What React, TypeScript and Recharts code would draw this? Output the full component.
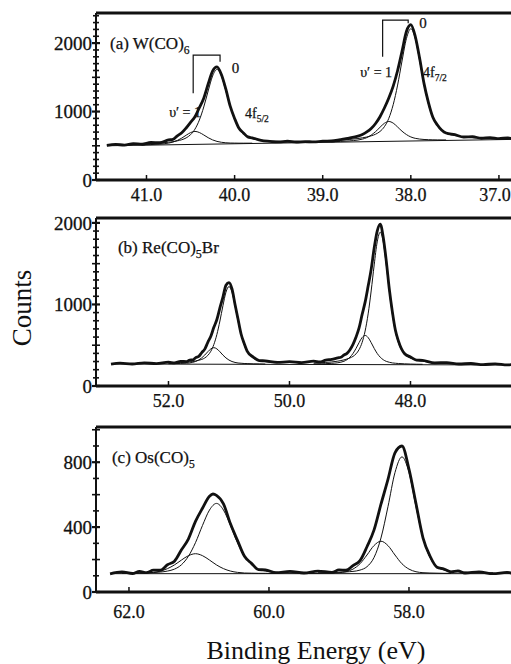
import React from "react";
import { LineChart, Line, XAxis, YAxis, ReferenceDot, ReferenceLine } from "recharts";

type Pt = [number, number];

// ---------- Panel (a) W(CO)6 ----------
const aXTicks = [41, 40, 39, 38, 37];
const aYTicks = [0, 100, 200, 300, 400, 500, 600, 700, 800, 900, 1000, 1100, 1200, 1300, 1400, 1500, 1600, 1700, 1800, 1900, 2000, 2100, 2200, 2300, 2400];
const aYLabels = [0, 1000, 2000];
const aData: Pt[] = [[41.45,505],[41.35,520],[41.25,510],[41.15,531],[41.05,522],[40.95,548],[40.85,544],[40.75,586],[40.7,594],[40.65,645],[40.6,690],[40.55,760],[40.5,842],[40.45,925],[40.4,1056],[40.35,1195],[40.3,1402],[40.25,1590],[40.2,1652],[40.15,1540],[40.1,1330],[40.05,1078],[40.0,900],[39.95,755],[39.9,688],[39.85,630],[39.8,616],[39.7,578],[39.6,565],[39.5,556],[39.4,566],[39.3,555],[39.2,562],[39.1,556],[39.0,568],[38.9,570],[38.8,590],[38.7,612],[38.6,640],[38.55,664],[38.5,702],[38.45,752],[38.4,826],[38.35,925],[38.3,1052],[38.25,1198],[38.2,1372],[38.15,1600],[38.1,1880],[38.05,2170],[38.0,2268],[37.95,2100],[37.9,1778],[37.85,1408],[37.8,1132],[37.75,918],[37.7,808],[37.6,686],[37.5,662],[37.4,628],[37.3,632],[37.2,610],[37.1,620],[37.0,604],[36.9,616],[36.85,605]];
const aMain1: Pt[] = [[41.05,524],[40.95,531],[40.85,539],[40.75,552],[40.7,560],[40.65,572],[40.6,588],[40.55,615],[40.5,662],[40.45,743],[40.4,876],[40.35,1067],[40.3,1301],[40.25,1519],[40.2,1615],[40.15,1521],[40.1,1305],[40.05,1073],[40.0,884],[39.95,753],[39.9,674],[39.85,629],[39.8,604],[39.7,580],[39.6,569],[39.5,564],[39.4,561]];
const aMinor1: Pt[] = [[41.05,514],[40.95,518],[40.85,524],[40.75,539],[40.7,554],[40.65,578],[40.6,612],[40.55,654],[40.5,692],[40.45,710],[40.4,694],[40.35,658],[40.3,618],[40.25,586],[40.2,564],[40.15,551],[40.1,544],[40.05,540],[40.0,539],[39.95,538],[39.9,538],[39.8,538]];
const aMain2: Pt[] = [[38.9,574],[38.8,582],[38.7,592],[38.6,606],[38.55,616],[38.5,628],[38.45,645],[38.4,669],[38.35,709],[38.3,779],[38.25,901],[38.2,1101],[38.15,1387],[38.1,1739],[38.05,2066],[38.0,2210],[37.95,2068],[37.9,1743],[37.85,1393],[37.8,1109],[37.75,911],[37.7,791],[37.6,685],[37.5,648],[37.4,630],[37.3,620],[37.2,614],[37.1,610]];
const aMinor2: Pt[] = [[38.9,559],[38.8,564],[38.7,571],[38.6,584],[38.55,597],[38.5,619],[38.45,656],[38.4,707],[38.35,770],[38.3,829],[38.25,855],[38.2,831],[38.15,774],[38.1,713],[38.05,664],[38.0,629],[37.95,609],[37.9,598],[37.85,592],[37.8,589],[37.75,587],[37.7,586],[37.6,585]];
const aBase: Pt[] = [[41.45,500],[36.85,593]];
const aBracket1: Pt[] = [[40.47,1266],[40.47,1825],[40.165,1825],[40.165,1727]];
const aBracket2: Pt[] = [[38.32,1800],[38.32,2336],[38.03,2336],[38.03,2290]];

// ---------- Panel (b) Re(CO)5Br ----------
const bXTicks = [52, 50, 48];
const bYTicks = [0, 100, 200, 300, 400, 500, 600, 700, 800, 900, 1000, 1100, 1200, 1300, 1400, 1500, 1600, 1700, 1800, 1900, 2000];
const bYLabels = [0, 1000, 2000];
const bData: Pt[] = [[52.95,268],[52.8,281],[52.6,270],[52.4,284],[52.2,274],[52.0,292],[51.9,284],[51.8,303],[51.7,300],[51.65,318],[51.6,320],[51.55,348],[51.5,362],[51.45,410],[51.4,452],[51.35,536],[51.3,610],[51.25,720],[51.2,815],[51.15,958],[51.1,1090],[51.05,1236],[51.0,1268],[50.95,1190],[50.9,1000],[50.85,818],[50.8,638],[50.75,524],[50.7,428],[50.6,355],[50.5,312],[50.4,308],[50.2,290],[50.0,298],[49.8,286],[49.6,305],[49.5,294],[49.4,318],[49.3,326],[49.2,345],[49.15,352],[49.1,380],[49.05,400],[49.0,445],[48.95,510],[48.9,600],[48.85,712],[48.8,875],[48.75,1028],[48.7,1225],[48.65,1430],[48.6,1692],[48.55,1900],[48.5,1985],[48.45,1822],[48.4,1532],[48.35,1188],[48.3,912],[48.25,686],[48.2,553],[48.1,398],[48.0,356],[47.9,318],[47.8,314],[47.6,284],[47.4,287],[47.2,270],[47.0,276],[46.8,262],[46.6,271],[46.4,258],[46.3,266]];
const bMain1: Pt[] = [[52.0,280],[51.9,283],[51.8,287],[51.7,292],[51.65,296],[51.6,300],[51.55,307],[51.5,315],[51.45,326],[51.4,344],[51.35,375],[51.3,426],[51.25,509],[51.2,632],[51.15,797],[51.1,984],[51.05,1150],[51.0,1220],[50.95,1150],[50.9,984],[50.85,796],[50.8,631],[50.75,508],[50.7,425],[50.6,343],[50.5,314],[50.4,298],[50.2,284]];
const bMinor1: Pt[] = [[52.0,273],[51.9,274],[51.8,277],[51.7,280],[51.65,283],[51.6,290],[51.55,301],[51.5,319],[51.45,345],[51.4,380],[51.35,420],[51.3,455],[51.25,470],[51.2,455],[51.15,420],[51.1,379],[51.05,344],[51.0,318],[50.95,300],[50.9,289],[50.85,282],[50.8,279],[50.75,276],[50.7,275],[50.6,272],[50.5,271],[50.4,269]];
const bMain2: Pt[] = [[49.6,282],[49.5,285],[49.4,289],[49.3,295],[49.2,305],[49.15,312],[49.1,320],[49.05,331],[49.0,344],[48.95,363],[48.9,394],[48.85,446],[48.8,533],[48.75,674],[48.7,884],[48.65,1165],[48.6,1485],[48.55,1767],[48.5,1886],[48.45,1767],[48.4,1485],[48.35,1165],[48.3,883],[48.25,673],[48.2,532],[48.1,393],[48.0,342],[47.9,318],[47.8,303],[47.6,286],[47.4,278]];
const bMinor2: Pt[] = [[49.6,270],[49.5,272],[49.4,274],[49.3,278],[49.2,285],[49.15,292],[49.1,303],[49.05,323],[49.0,354],[48.95,399],[48.9,461],[48.85,532],[48.8,594],[48.75,620],[48.7,594],[48.65,532],[48.6,461],[48.55,399],[48.5,353],[48.45,322],[48.4,302],[48.35,291],[48.3,283],[48.25,279],[48.2,276],[48.1,272],[48.0,269],[47.9,267],[47.8,266]];
const bBase: Pt[] = [[52.95,270],[46.3,258]];

// ---------- Panel (c) Os(CO)5 ----------
const cXTicks = [62, 60, 58];
const cYTicks = [0, 100, 200, 300, 400, 500, 600, 700, 800, 900, 1000];
const cYLabels = [0, 400, 800];
const cData: Pt[] = [[62.27,112],[62.1,124],[61.95,114],[61.85,127],[61.75,119],[61.65,135],[61.55,134],[61.45,168],[61.35,190],[61.25,260],[61.15,328],[61.05,435],[60.95,516],[60.85,590],[60.8,604],[60.75,596],[60.65,543],[60.55,420],[60.45,318],[60.35,220],[60.25,177],[60.15,138],[60.05,136],[59.9,119],[59.7,127],[59.5,117],[59.3,129],[59.1,121],[59.0,136],[58.9,134],[58.8,163],[58.7,193],[58.6,279],[58.5,381],[58.4,541],[58.3,694],[58.2,858],[58.1,900],[58.0,758],[57.9,545],[57.8,334],[57.7,222],[57.6,153],[57.5,142],[57.4,124],[57.3,130],[57.2,117],[57.0,124],[56.8,113],[56.6,121],[56.5,112]];
const cMain1: Pt[] = [[61.95,117],[61.85,118],[61.75,119],[61.65,120],[61.55,123],[61.45,129],[61.35,141],[61.25,168],[61.15,221],[61.05,304],[60.95,410],[60.85,505],[60.75,546],[60.65,505],[60.55,410],[60.45,304],[60.35,221],[60.25,168],[60.15,141],[60.05,129],[59.9,121],[59.7,118],[59.5,117]];
const cMinor1: Pt[] = [[62.1,115],[61.95,115],[61.85,116],[61.75,117],[61.65,121],[61.55,129],[61.45,144],[61.35,167],[61.25,197],[61.15,224],[61.05,236],[60.95,224],[60.85,197],[60.75,167],[60.65,144],[60.55,129],[60.45,121],[60.35,117],[60.25,116],[60.15,115],[60.05,115],[59.9,114]];
const cMain2: Pt[] = [[59.3,118],[59.1,120],[59.0,122],[58.9,124],[58.8,127],[58.7,135],[58.6,156],[58.5,212],[58.4,333],[58.3,526],[58.2,736],[58.1,833],[58.0,736],[57.9,526],[57.8,333],[57.7,212],[57.6,156],[57.5,135],[57.4,127],[57.3,124],[57.2,122],[57.0,119],[56.8,118]];
const cMinor2: Pt[] = [[59.5,114],[59.3,115],[59.1,117],[59.0,119],[58.9,125],[58.8,141],[58.7,174],[58.6,228],[58.5,286],[58.4,313],[58.3,286],[58.2,228],[58.1,174],[58.0,141],[57.9,125],[57.8,119],[57.7,117],[57.6,116],[57.5,115],[57.4,115]];
const cBase: Pt[] = [[62.27,113],[56.5,113]];

const FONT = '"Liberation Serif", "Times New Roman", serif';
const INK = "#111";
const PAGE_W = 511;

const rows = (pts: Pt[]) => pts.map(([e, c]) => ({ e, c }));

type Note = { e: number; c: number; anchor: "start" | "middle" | "end"; size: number; content: React.ReactNode };

const sub = (s: string, size: number) => [
  <tspan key="s" dy={size * 0.3} fontSize={size * 0.68}>{s}</tspan>,
];

const aNotes: Note[] = [
  { e: 41.414, c: 2000, anchor: "start", size: 17, content: [<tspan key="a">(a) W(CO)</tspan>, ...sub("6", 17)] },
  { e: 40.033, c: 1635, anchor: "start", size: 15, content: "0" },
  { e: 40.381, c: 992, anchor: "end", size: 14, content: "υ′ = 1" },
  { e: 39.882, c: 978, anchor: "start", size: 14, content: [<tspan key="a">4f</tspan>, ...sub("5/2", 14)] },
  { e: 37.903, c: 2306, anchor: "start", size: 15, content: "0" },
  { e: 38.213, c: 1577, anchor: "end", size: 14, content: "υ′ = 1" },
  { e: 37.862, c: 1577, anchor: "start", size: 14, content: [<tspan key="a">4f</tspan>, ...sub("7/2", 14)] },
];
const bNotes: Note[] = [
  { e: 52.835, c: 1705, anchor: "start", size: 17, content: [<tspan key="a">(b) Re(CO)</tspan>, <tspan key="s" dy={5} fontSize={12}>5</tspan>, <tspan key="b" dy={-5}>Br</tspan>] },
];
const cNotes: Note[] = [
  { e: 62.243, c: 832, anchor: "start", size: 17, content: [<tspan key="a">(c) Os(CO)</tspan>, ...sub("5", 17)] },
];

const makeYTick = (labels: number[], semi: number) => (p: any) => {
  const v = p.payload.value;
  const major = labels.includes(v);
  const mid = !major && v % semi === 0;
  const half = major ? 4 : mid ? 4 : 3;
  return (
    <g>
      <line x1={p.x - half} x2={p.x + half} y1={p.y} y2={p.y} stroke={INK} strokeWidth={major ? 2.2 : 1.6} />
      {major && (
        <text x={p.x - 4} y={p.y} dy="0.36em" textAnchor="end" fontFamily={FONT} fontSize={19} fill={INK} stroke={INK} strokeWidth={0.3}>
          {v}
        </text>
      )}
    </g>
  );
};

const makeXTick = (gap: number) => (p: any) => {
  const tx = Math.min(p.x, PAGE_W - 16);
  return (
    <g>
      <line x1={p.x} x2={p.x} y1={p.y - 1} y2={p.y - 5} stroke={INK} strokeWidth={1.5} />
      <text x={tx} y={p.y + gap} dy="0.36em" textAnchor="middle" fontFamily={FONT} fontSize={18} fill={INK} stroke={INK} strokeWidth={0.25}>
        {Number(p.payload.value).toFixed(1)}
      </text>
    </g>
  );
};

type PanelProps = {
  top: number;
  marginTop: number;
  plotH: number;
  dx: [number, number];
  dy: [number, number];
  xTicks: number[];
  yTicks: number[];
  yLabels: number[];
  semi: number;
  gap: number;
  data: Pt[];
  comps: Pt[][];
  base: Pt[];
  brackets: Pt[][];
  notes: Note[];
};

function Panel(props: PanelProps) {
  const { top, marginTop, plotH, dx, dy, xTicks, yTicks, yLabels, semi, gap, data, comps, base, brackets, notes } = props;
  const height = marginTop + plotH + 34;
  return (
    <div style={{ position: "absolute", left: 0, top, width: 520, height }}>
      <LineChart width={520} height={height} margin={{ top: marginTop, right: 0, bottom: 0, left: 0 }}>
        <XAxis
          xAxisId="b"
          type="number"
          dataKey="e"
          domain={dx}
          reversed
          allowDataOverflow
          ticks={xTicks}
          interval={0}
          height={34}
          tickSize={0}
          tickMargin={0}
          tickLine={false}
          axisLine={{ stroke: INK, strokeWidth: 3 }}
          tick={makeXTick(gap)}
        />
        <YAxis
          type="number"
          domain={dy}
          allowDataOverflow
          ticks={yTicks}
          interval={0}
          width={96}
          tickSize={0}
          tickMargin={0}
          tickLine={false}
          axisLine={{ stroke: INK, strokeWidth: 2 }}
          tick={makeYTick(yLabels, semi)}
        />
        <ReferenceLine xAxisId="b" y={dy[1]} stroke={INK} strokeWidth={3} ifOverflow="visible" />
        <Line xAxisId="b" data={rows(base)} dataKey="c" type="linear" stroke={INK} strokeWidth={1} dot={false} isAnimationActive={false} />
        {comps.map((cp, i) => (
          <Line key={"c" + i} xAxisId="b" data={rows(cp)} dataKey="c" type="monotone" stroke={INK} strokeWidth={1} dot={false} isAnimationActive={false} />
        ))}
        {brackets.map((br, i) => (
          <Line key={"br" + i} xAxisId="b" data={rows(br)} dataKey="c" type="linear" stroke={INK} strokeWidth={1.2} dot={false} isAnimationActive={false} />
        ))}
        <Line xAxisId="b" data={rows(data)} dataKey="c" type="monotone" stroke={INK} strokeWidth={2.8} dot={false} isAnimationActive={false} />
        {notes.map((n, i) => (
          <ReferenceDot
            key={"n" + i}
            xAxisId="b"
            x={n.e}
            y={n.c}
            r={0}
            ifOverflow="visible"
            shape={(p: any) => (
              <text x={p.cx} y={p.cy} dy="0.36em" textAnchor={n.anchor} fontFamily={FONT} fontSize={n.size} fill={INK} stroke={INK} strokeWidth={0.25}>
                {n.content}
              </text>
            )}
          />
        ))}
      </LineChart>
    </div>
  );
}

export default function App() {
  return (
    <div style={{ position: "absolute", left: 0, top: 0, width: 511, height: 664, overflow: "hidden", background: "#fff" }}>
      <Panel
        top={0}
        marginTop={13}
        plotH={167}
        dx={[36.761, 41.573]}
        dy={[0, 2440]}
        xTicks={aXTicks}
        yTicks={aYTicks}
        yLabels={aYLabels}
        semi={500}
        gap={15}
        data={aData}
        comps={[aMain1, aMinor1, aMain2, aMinor2]}
        base={aBase}
        brackets={[aBracket1, aBracket2]}
        notes={aNotes}
      />
      <Panel
        top={200}
        marginTop={18}
        plotH={168}
        dx={[46.19, 53.198]}
        dy={[0, 2060]}
        xTicks={bXTicks}
        yTicks={bYTicks}
        yLabels={bYLabels}
        semi={500}
        gap={15}
        data={bData}
        comps={[bMain1, bMinor1, bMain2, bMinor2]}
        base={bBase}
        brackets={[]}
        notes={bNotes}
      />
      <Panel
        top={410}
        marginTop={17}
        plotH={165}
        dx={[56.414, 62.471]}
        dy={[0, 1017]}
        xTicks={cXTicks}
        yTicks={cYTicks}
        yLabels={cYLabels}
        semi={200}
        gap={20}
        data={cData}
        comps={[cMain1, cMinor1, cMain2, cMinor2]}
        base={cBase}
        brackets={[]}
        notes={cNotes}
      />
      <div
        style={{
          position: "absolute",
          left: -28,
          top: 293,
          width: 100,
          height: 30,
          lineHeight: "30px",
          textAlign: "center",
          transform: "rotate(-90deg)",
          fontFamily: FONT,
          fontSize: 27,
          color: INK,
        }}
      >
        Counts
      </div>
      <div
        style={{
          position: "absolute",
          left: 116,
          top: 636,
          width: 400,
          height: 30,
          lineHeight: "30px",
          textAlign: "center",
          fontFamily: FONT,
          fontSize: 26,
          color: INK,
        }}
      >
        Binding Energy (eV)
      </div>
    </div>
  );
}
